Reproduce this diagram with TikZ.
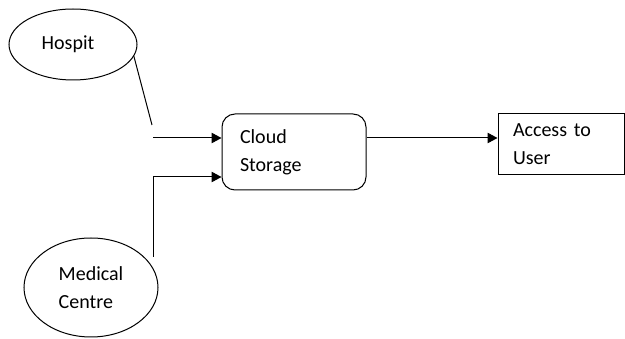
\documentclass[tikz,border=0pt]{standalone}
\usepackage{fontspec}
\setmainfont{Carlito}
\usetikzlibrary{shapes.geometric,arrows.meta}
\begin{document}
\begin{tikzpicture}[x=1pt,y=-1pt,>={Triangle[length=10pt,width=10.5pt]},line width=1pt,
  every node/.style={font=\fontsize{20}{28}\selectfont},
  src/.style={draw,ellipse,inner sep=0pt,align=left},
  stepbox/.style={draw,align=left,inner ysep=0pt}]
\useasboundingbox (0,0) rectangle (625,339);
%% the two sources
\node[src,minimum width=128pt,minimum height=71pt] (hosp) at (73,44.5) {Hospit\hspace{10pt}};
\node[src,minimum width=134pt,minimum height=99pt] (med) at (91,287.5) {Medical\\Centre};
%% storage and user
\node[stepbox,rounded corners=13pt,inner xsep=18pt,text width=108pt,minimum height=76pt] (cloud) at (294,152) {Cloud\\Storage};
\node[stepbox,inner xsep=15pt,text width=96pt,minimum height=61pt] (access) at (561,144.5) {\raisebox{-3.5pt}{Access to}\\\raisebox{-3.5pt}{User}};
%% loose ends of the lines
\coordinate (hospend) at (152,125);
\coordinate (in1) at (153,138);
\coordinate (medtop) at (153,257);
\coordinate (in2) at (153,177);
%%
\draw (hosp.-11) -- (hospend);
\draw[->] (in1) -- (in1 -| cloud.west);
\draw[->] (medtop) -- (in2) -- (in2 -| cloud.west);
\draw[->] (cloud.east |- in1) -- (in1 -| access.west);
\end{tikzpicture}
\end{document}
